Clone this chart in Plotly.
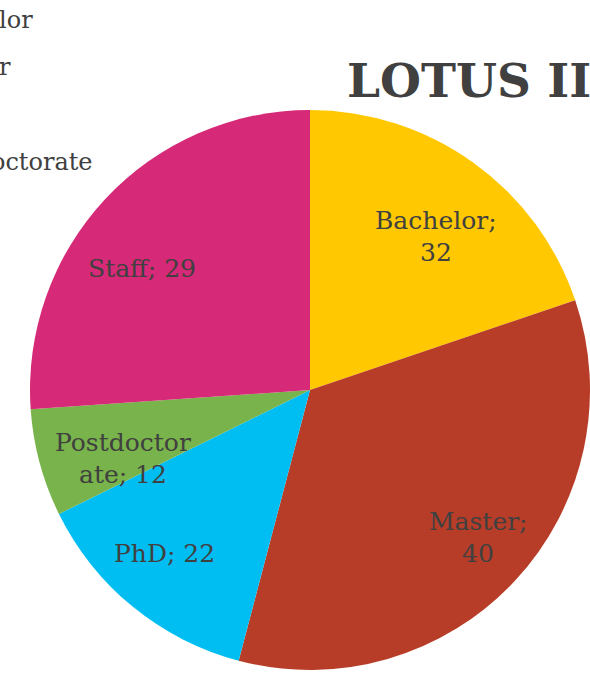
import math
import plotly.graph_objects as go

# ---- data ----
categories = ["Bachelor", "Master", "PhD", "Postdoctorate", "Staff"]
counts = [32, 40, 22, 12, 29]                 # numbers printed in the labels
shares = [19.8, 34.3, 13.6, 6.2, 26.1]        # slice sizes as drawn
colors = ["#FFC800", "#B83D28", "#00BEF2", "#78B34B", "#D62977"]
title_text = "LOTUS II"

# ---- layout config ----
W, H = 590, 673
FONT = "DejaVu Serif"
TXT = "#404040"
pie_cx, pie_cy, pie_r = 310, 390, 280          # pixels (from top-left)
wrap_width = [9, 7, 12, 10, 12]
label_rfrac = [0.71, 0.80, 0.78, 0.71, 0.74]
label_dtheta = [3.8, -1.8, 2.4, -4.9, -7.0]
label_size = 25
label_line_gap = 32

def wrap(text, w):
    if len(text) <= w:
        return [text]
    if "; " in text and text.index(";") + 1 <= w:
        i = text.index(";")
        return [text[: i + 1], text[i + 2:]]
    return [text[:w], text[w:]]

fig = go.Figure(
    go.Pie(
        labels=categories,
        values=shares,
        marker=dict(colors=colors, line=dict(width=0)),
        sort=False,
        direction="clockwise",
        rotation=0,
        textinfo="none",
        hoverinfo="label+value",
        showlegend=False,
        domain=dict(
            x=[(pie_cx - pie_r) / W, min(1, (pie_cx + pie_r) / W)],
            y=[max(0, (H - pie_cy - pie_r) / H), (H - pie_cy + pie_r) / H],
        ),
    )
)

ann = []
total = sum(shares)
cum = 0
for i, (c, n, s) in enumerate(zip(categories, counts, shares)):
    mid = (cum + s / 2) / total * 360 + label_dtheta[i]
    cum += s
    rr = label_rfrac[i] * pie_r
    px = pie_cx + rr * math.sin(math.radians(mid))
    py = pie_cy - rr * math.cos(math.radians(mid))
    lines = wrap(f"{c}; {n}", wrap_width[i])
    k = len(lines)
    for j, ln in enumerate(lines):
        off = (j - (k - 1) / 2) * label_line_gap
        ann.append(dict(
            x=px / W, y=1 - (py + off) / H, xref="paper", yref="paper",
            text=ln, showarrow=False, xanchor="center", yanchor="middle",
            font=dict(family=FONT, size=label_size, color=TXT),
        ))

# legend (partly outside the visible page on the left)
leg_x0, leg_y0, leg_gap = -78, 20, 47.3
for i, c in enumerate(categories):
    ann.append(dict(
        x=leg_x0 / W, y=1 - (leg_y0 + i * leg_gap) / H, xref="paper", yref="paper",
        text=c, showarrow=False, xanchor="left", yanchor="middle",
        font=dict(family=FONT, size=24, color=TXT),
    ))

# title
ann.append(dict(
    x=345 / W, y=1 - 80 / H, xref="paper", yref="paper",
    text=f"<b>{title_text}</b>", showarrow=False, xanchor="left", yanchor="middle",
    font=dict(family=FONT, size=47, color=TXT),
))

fig.update_layout(
    width=W, height=H,
    margin=dict(l=0, r=0, t=0, b=0),
    paper_bgcolor="white", plot_bgcolor="white",
    annotations=ann,
)
fig.write_html(
    "out.html",
    config={"displayModeBar": False},
    post_script="document.body.style.margin='0px';document.body.style.overflow='hidden';",
)
